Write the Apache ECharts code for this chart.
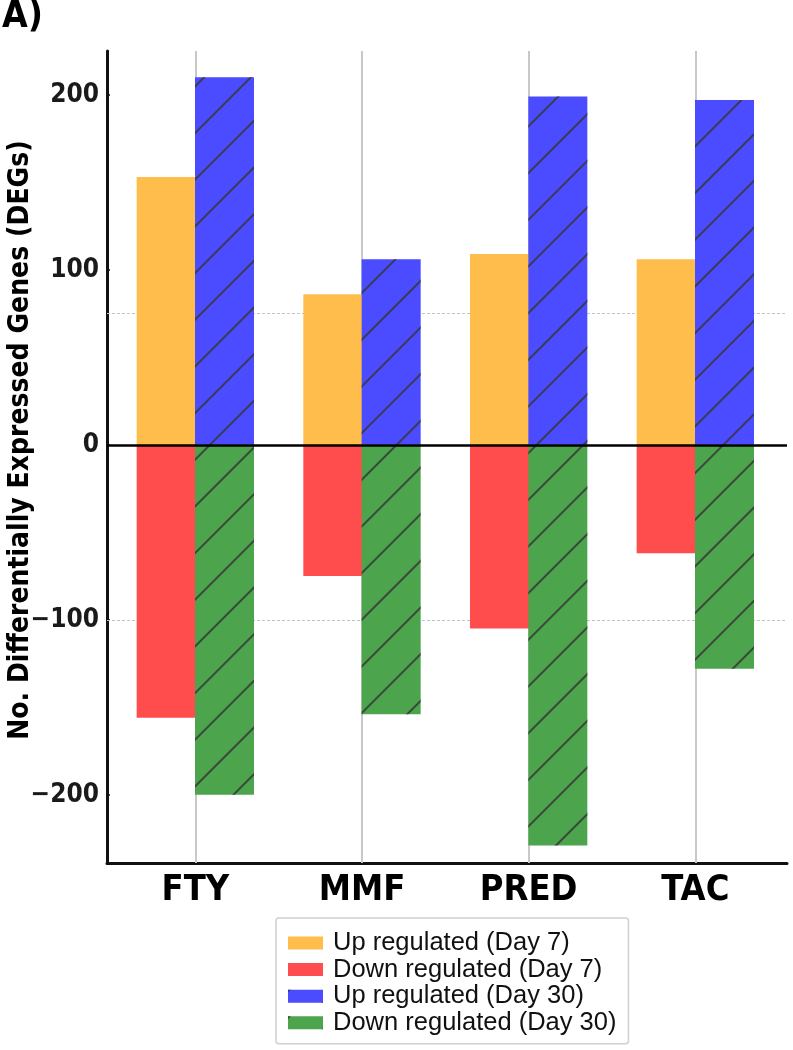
<!DOCTYPE html>
<html>
<head>
<meta charset="utf-8">
<script src="https://cdn.jsdelivr.net/npm/echarts@6/dist/echarts.min.js"></script>
<style>html,body{margin:0;padding:0;background:#fff;}#c{width:793px;height:1050px;}</style>
</head>
<body>
<div id="c"></div>
<script>
const categories = ['FTY', 'MMF', 'PRED', 'TAC'];
const seriesNames = ['Up regulated (Day 7)', 'Down regulated (Day 7)', 'Up regulated (Day 30)', 'Down regulated (Day 30)'];
const upDay7 = [153, 86, 109, 106];
const downDay7 = [-156, -75, -105, -62];
const upDay30 = [210, 106, 199, 197];
const downDay30 = [-200, -154, -229, -128];
const yTicks = [-200, -100, 0, 100, 200];
const refLines = [75, -100];

const barW = 0.175; // half offset in category units
const catPos = categories.map((c, i) => i);
function pts(vals, off) { return vals.map((v, i) => [catPos[i] + off, v]); }

const FONT = "'DejaVu Sans Condensed', 'DejaVu Sans', sans-serif";

const hatch = {
  symbol: 'rect', symbolSize: 1,
  color: 'rgba(55,55,55,0.85)',
  dashArrayX: [1, 0],
  dashArrayY: [1.6, 31],
  rotation: -Math.PI / 4
};

const chart = echarts.init(document.getElementById('c'), null, {renderer: 'canvas'});
const common = {
  type: 'bar', barWidth: 59, barGap: '-100%', z: 2
};
chart.setOption({
  animation: false,
  title: {text: 'A)', left: -3, top: -6, textStyle: {fontFamily: FONT, fontWeight: 'bold', fontSize: 37, color: '#000'}},
  grid: {left: 107, right: 6, top: 51, bottom: 187, containLabel: false, outerBoundsMode: 'none'},
  legend: {
    orient: 'vertical', left: 276, top: 918,
    data: seriesNames,
    icon: 'rect', itemWidth: 35, itemHeight: 13, itemGap: 0.6,
    padding: [12, 12, 8, 12],
    borderColor: '#d0d0d0', borderWidth: 1.5, borderRadius: 3,
    textStyle: {fontFamily: 'Liberation Sans', fontSize: 25.5, color: '#111', lineHeight: 26, padding: [0, 0, 0, 5]}
  },
  xAxis: {
    type: 'value', min: -0.53, max: 3.55,
    axisLine: {show: true, onZero: false, lineStyle: {color: '#111', width: 3}},
    axisTick: {show: true, inside: true, length: 5, customValues: catPos, lineStyle: {color: '#111', width: 2}},
    axisLabel: {show: true, customValues: catPos, margin: 10, formatter: v => categories[Math.round(v)] || '',
      fontFamily: FONT, fontWeight: 'bold', fontSize: 36, color: '#000'},
    splitLine: {show: false}
  },
  yAxis: {
    type: 'value', min: -239, max: 225,
    name: 'No. Differentially Expressed Genes (DEGs)', nameLocation: 'middle', nameGap: 72, nameMoveOverlap: false,
    nameTextStyle: {fontFamily: FONT, fontWeight: 'bold', fontSize: 28, color: '#000', padding: [0, 0, 0, 34]},
    axisLine: {show: true, onZero: false, lineStyle: {color: '#111', width: 3}},
    axisTick: {show: true, inside: true, length: 3, customValues: yTicks, lineStyle: {color: '#111', width: 1.5}},
    axisLabel: {show: true, customValues: yTicks, margin: 8, formatter: v => (v < 0 ? '\u2212' + Math.abs(v) : String(v)),
      fontFamily: FONT, fontWeight: 'bold', fontSize: 26, color: '#1a1a1a'},
    splitLine: {show: false}
  },
  series: [
    Object.assign({}, common, {name: seriesNames[0], data: pts(upDay7, -barW), itemStyle: {color: '#ffbd4b'},
      markLine: {silent: true, symbol: 'none', z: 1, label: {show: false},
        lineStyle: {color: '#c8c8c8', width: 2, type: 'solid'},
        data: catPos.map(p => ({xAxis: p}))}}),
    Object.assign({}, common, {name: seriesNames[1], data: pts(downDay7, -barW), itemStyle: {color: '#ff4c4c'},
      markLine: {silent: true, symbol: 'none', z: 1, label: {show: false},
        lineStyle: {color: '#c4c4c4', width: 1, type: [3, 2]},
        data: refLines.map(v => ({yAxis: v}))}}),
    Object.assign({}, common, {name: seriesNames[2], data: pts(upDay30, barW), itemStyle: {color: '#4b4bff', decal: hatch}}),
    Object.assign({}, common, {name: seriesNames[3], data: pts(downDay30, barW), itemStyle: {color: '#4ca54c', decal: hatch},
      markLine: {silent: true, symbol: 'none', z: 6, label: {show: false},
        lineStyle: {color: '#000', width: 2.5, type: 'solid'},
        data: [{yAxis: 0}]}})
  ]
});
</script>
</body>
</html>
